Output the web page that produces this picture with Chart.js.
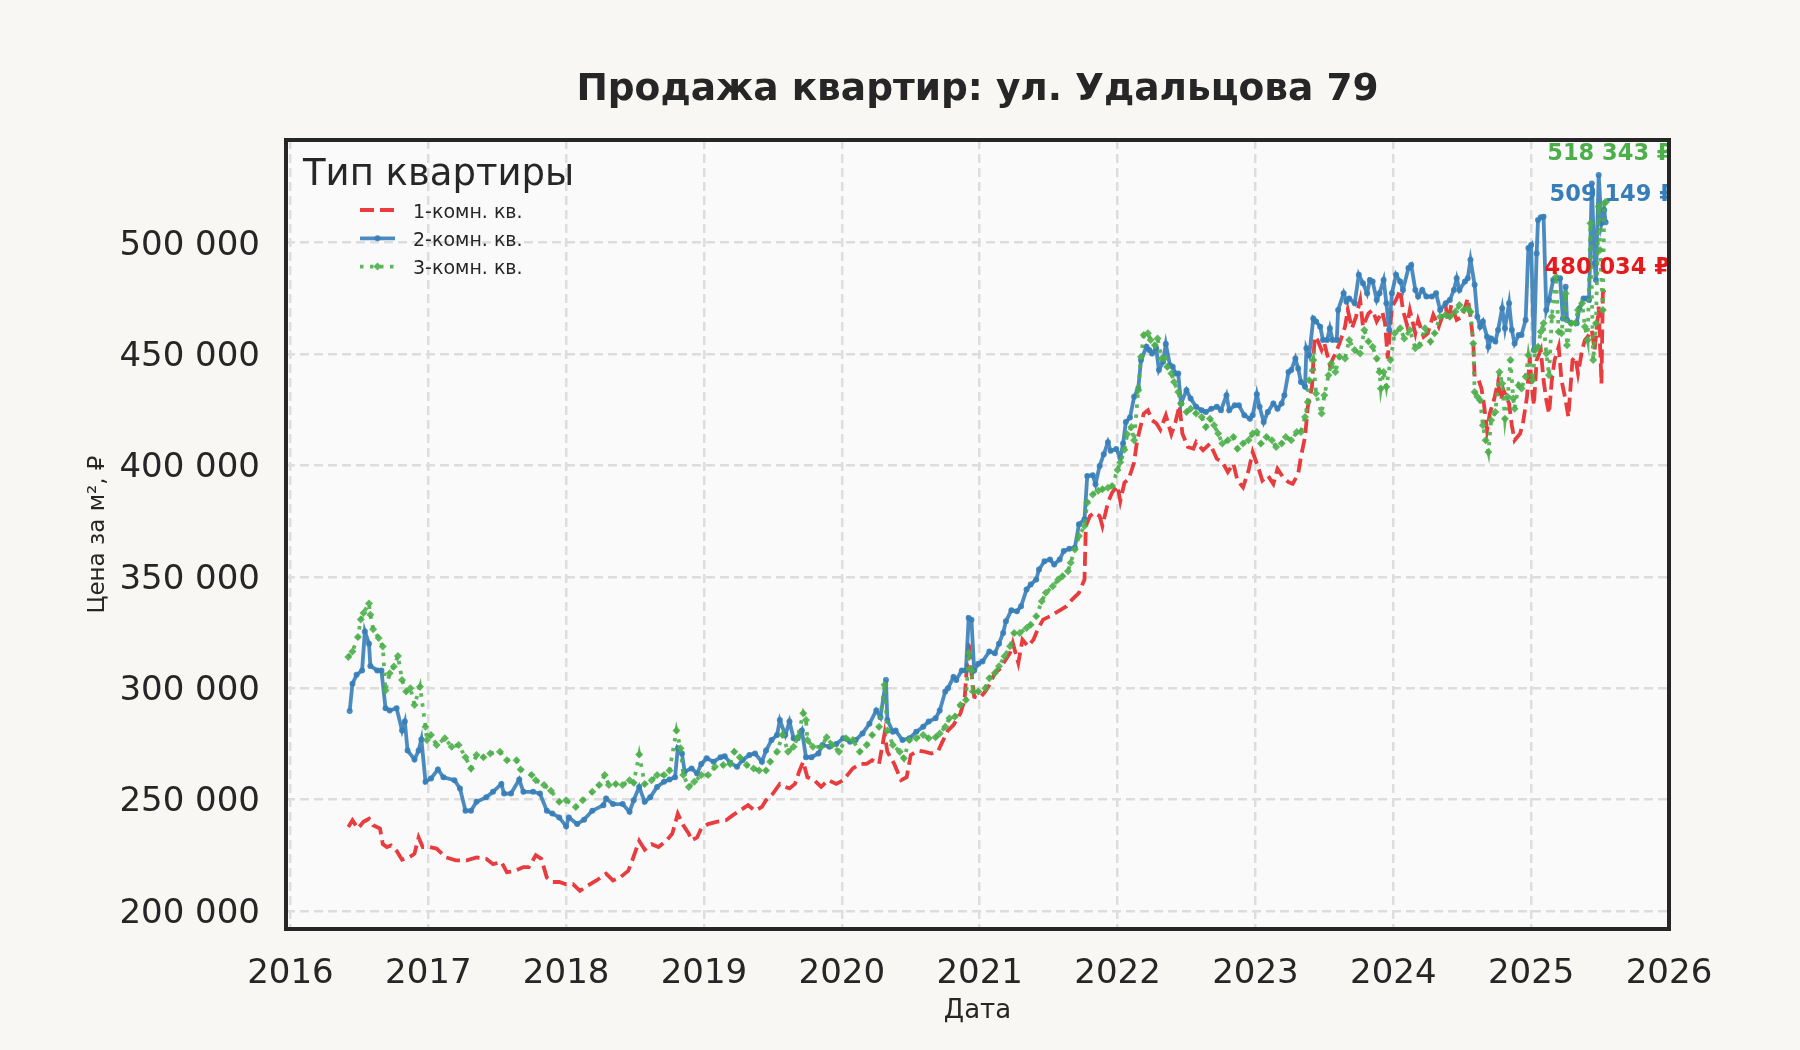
<!DOCTYPE html>
<html lang="ru">
<head>
<meta charset="utf-8">
<title>Продажа квартир: ул. Удальцова 79</title>
<script src="https://cdn.jsdelivr.net/npm/chart.js@4.4.1/dist/chart.umd.min.js"></script>
<style>
    html, body { margin: 0; padding: 0; background: #f8f7f3; overflow: hidden; }
    #wrap { width: 1800px; height: 1050px; }
</style>
</head>
<body>
<div id="wrap"><canvas id="priceChart" width="1800" height="1050"></canvas></div>
<script>
// ---- data ----
const seriesNames = ['1-комн. кв.', '2-комн. кв.', '3-комн. кв.'];
const xTicks = [2016, 2017, 2018, 2019, 2020, 2021, 2022, 2023, 2024, 2025, 2026];
const yTicks = [200000, 250000, 300000, 350000, 400000, 450000, 500000];

// [year, price per m²]
const oneRoom = [
    [2016.42,237700],[2016.45,240700],[2016.49,237000],[2016.53,240000],[2016.57,241400],[2016.60,238500],
    [2016.65,237000],[2016.67,230000],[2016.70,228700],[2016.73,229400],[2016.77,227000],[2016.81,223000],
    [2016.86,224000],[2016.90,225700],[2016.93,233000],[2016.96,228700],[2017.01,228700],[2017.06,228000],
    [2017.13,224000],[2017.20,222700],[2017.28,222700],[2017.35,224000],[2017.42,223400],[2017.47,221000],
    [2017.53,222000],[2017.57,217400],[2017.63,218000],[2017.69,219700],[2017.73,219700],[2017.78,225000],
    [2017.82,223400],[2017.86,215000],[2017.90,213000],[2017.95,213000],[2018.00,212000],[2018.05,212000],
    [2018.10,209000],[2018.14,210700],[2018.22,213700],[2018.29,216700],[2018.34,213700],[2018.39,215000],
    [2018.45,218000],[2018.47,221000],[2018.51,228000],[2018.53,231500],[2018.57,227500],[2018.62,230000],
    [2018.67,228700],[2018.73,231700],[2018.77,234700],[2018.81,243700],[2018.85,238500],[2018.89,234700],
    [2018.91,231700],[2018.95,233000],[2018.98,237000],[2019.03,239000],[2019.09,240000],[2019.16,240700],
    [2019.21,243000],[2019.26,245000],[2019.32,247500],[2019.37,245000],[2019.42,246700],[2019.45,249700],
    [2019.50,252700],[2019.55,257000],[2019.59,255700],[2019.62,255000],[2019.66,257000],[2019.69,262500],
    [2019.72,267000],[2019.75,260000],[2019.80,258700],[2019.85,255700],[2019.90,258700],[2019.96,257000],
    [2020.01,258700],[2020.04,261000],[2020.08,264000],[2020.13,266000],[2020.18,266000],[2020.22,267700],
    [2020.27,266000],[2020.31,279700],[2020.33,271500],[2020.38,266000],[2020.43,258700],[2020.47,260000],
    [2020.50,270000],[2020.55,272000],[2020.60,271500],[2020.65,270700],[2020.70,272000],[2020.73,276000],
    [2020.77,281000],[2020.81,283500],[2020.86,288700],[2020.89,294700],[2020.92,321000],[2020.94,306800],
    [2020.96,296200],[2021.00,295500],[2021.04,298500],[2021.07,301500],[2021.11,306800],[2021.14,308300],
    [2021.18,312000],[2021.22,315800],[2021.24,320300],[2021.28,311300],[2021.31,321800],[2021.35,318800],
    [2021.39,321800],[2021.42,326300],[2021.46,330800],[2021.51,332300],[2021.55,333800],[2021.59,335300],
    [2021.63,336800],[2021.67,339800],[2021.72,342800],[2021.76,348800],[2021.77,372800],[2021.80,377300],
    [2021.83,378800],[2021.87,377300],[2021.89,372800],[2021.93,383300],[2021.96,387800],[2022.00,390800],
    [2022.02,384000],[2022.05,392300],[2022.08,393800],[2022.12,401300],[2022.14,410400],[2022.16,415800],
    [2022.19,423300],[2022.22,424800],[2022.25,420300],[2022.28,419000],[2022.31,416000],[2022.35,422500],
    [2022.39,414000],[2022.42,419500],[2022.45,427000],[2022.47,414300],[2022.51,408300],[2022.55,407500],
    [2022.57,410500],[2022.62,406800],[2022.67,409800],[2022.72,403000],[2022.76,401500],[2022.80,397000],
    [2022.84,400800],[2022.87,393200],[2022.91,390200],[2022.95,397700],[2022.98,406000],[2023.02,399200],
    [2023.05,393200],[2023.09,395500],[2023.13,391700],[2023.16,398500],[2023.20,394700],[2023.24,392500],
    [2023.27,391700],[2023.31,396200],[2023.33,403800],[2023.36,412800],[2023.38,426300],[2023.41,435300],
    [2023.43,457800],[2023.45,456300],[2023.48,451800],[2023.50,454800],[2023.54,445000],[2023.58,450300],
    [2023.61,454800],[2023.65,462300],[2023.67,469800],[2023.70,461600],[2023.73,466800],[2023.76,474300],
    [2023.78,462300],[2023.82,468300],[2023.85,469800],[2023.88,464600],[2023.92,469000],[2023.94,463800],
    [2023.96,448000],[2023.99,471300],[2024.02,474300],[2024.05,478800],[2024.07,469800],[2024.10,463000],
    [2024.12,469800],[2024.16,459300],[2024.18,465300],[2024.22,457800],[2024.25,459300],[2024.29,467600],
    [2024.33,462300],[2024.38,471300],[2024.40,464600],[2024.42,472000],[2024.46,465300],[2024.50,466800],
    [2024.54,475000],[2024.56,466800],[2024.58,455600],[2024.59,439800],[2024.62,438300],[2024.64,434500],
    [2024.66,426300],[2024.68,415800],[2024.70,423300],[2024.73,429300],[2024.76,437500],[2024.78,429300],
    [2024.80,433800],[2024.84,427800],[2024.86,418000],[2024.88,411300],[2024.92,414300],[2024.94,418800],
    [2024.97,430800],[2024.99,448800],[2025.00,438300],[2025.02,427000],[2025.04,447300],[2025.07,451800],
    [2025.09,438300],[2025.11,429300],[2025.13,423300],[2025.15,438300],[2025.17,447300],[2025.20,453300],
    [2025.22,438300],[2025.25,429300],[2025.27,421800],[2025.30,447300],[2025.32,448800],[2025.34,441300],
    [2025.37,451800],[2025.39,456300],[2025.41,457800],[2025.44,460800],[2025.46,451800],[2025.48,463800],
    [2025.49,471300],[2025.51,436800],[2025.52,477300],[2025.54,480034]
];

const twoRoom = [
    [2016.43,289800],[2016.45,302000],[2016.48,306000],[2016.52,308000],[2016.54,325500],[2016.57,320000],
    [2016.58,310000],[2016.63,308000],[2016.66,308000],[2016.69,291000],[2016.72,290000],[2016.77,291000],
    [2016.81,281000],[2016.83,285000],[2016.85,272000],[2016.90,268000],[2016.93,272000],[2016.95,277000],
    [2016.98,258000],[2017.02,259500],[2017.07,263500],[2017.11,260000],[2017.19,258700],[2017.23,255000],
    [2017.27,245000],[2017.31,245000],[2017.35,249000],[2017.42,251000],[2017.47,253500],[2017.53,257000],
    [2017.55,252700],[2017.60,252700],[2017.66,259000],[2017.69,253500],[2017.76,253500],[2017.81,252700],
    [2017.86,245000],[2017.90,243700],[2017.95,242000],[2018.00,238000],[2018.02,242000],[2018.08,239000],
    [2018.13,241000],[2018.19,245000],[2018.27,247500],[2018.29,250500],[2018.34,248000],[2018.41,248000],
    [2018.46,244500],[2018.49,249700],[2018.53,255700],[2018.57,249000],[2018.61,251000],[2018.66,255700],
    [2018.71,258000],[2018.75,259000],[2018.79,260000],[2018.81,273000],[2018.84,270700],[2018.86,262500],
    [2018.91,264000],[2018.95,261700],[2018.98,266000],[2019.02,268500],[2019.07,267000],[2019.12,269000],
    [2019.15,269500],[2019.19,266500],[2019.24,264700],[2019.28,267700],[2019.33,270000],[2019.37,270700],
    [2019.42,267000],[2019.45,272000],[2019.49,276700],[2019.53,279000],[2019.55,285700],[2019.59,279000],
    [2019.62,285000],[2019.65,277500],[2019.68,277500],[2019.71,281000],[2019.74,269000],[2019.78,269000],
    [2019.83,270700],[2019.86,274500],[2019.91,273700],[2019.96,275000],[2020.01,277500],[2020.06,276000],
    [2020.10,276700],[2020.15,279700],[2020.20,284000],[2020.25,290000],[2020.28,287000],[2020.32,303700],
    [2020.33,285700],[2020.37,280500],[2020.39,281000],[2020.44,276700],[2020.49,277500],[2020.54,280500],
    [2020.59,282700],[2020.63,285000],[2020.68,286500],[2020.71,290000],[2020.75,298500],[2020.77,300000],
    [2020.81,305000],[2020.83,303700],[2020.87,308000],[2020.90,308000],[2020.92,331500],[2020.94,330700],
    [2020.96,308000],[2020.99,311000],[2021.02,312000],[2021.07,316500],[2021.11,315700],[2021.14,320000],
    [2021.17,324800],[2021.19,330000],[2021.23,335000],[2021.27,334500],[2021.30,336800],[2021.34,344300],
    [2021.37,346500],[2021.41,348800],[2021.43,353300],[2021.47,357000],[2021.51,357800],[2021.54,355500],
    [2021.58,357800],[2021.61,361600],[2021.65,362600],[2021.69,363000],[2021.72,373600],[2021.76,375800],
    [2021.78,395300],[2021.82,395600],[2021.84,391600],[2021.87,399800],[2021.90,405000],[2021.93,410400],
    [2021.95,406600],[2021.99,407400],[2022.02,403600],[2022.04,409800],[2022.06,419500],[2022.09,421500],
    [2022.12,430800],[2022.15,434500],[2022.17,447300],[2022.21,453300],[2022.23,451800],[2022.25,450300],
    [2022.28,452600],[2022.30,442800],[2022.33,446500],[2022.35,454500],[2022.38,445000],[2022.40,444300],
    [2022.42,441300],[2022.44,441300],[2022.46,427800],[2022.50,433800],[2022.53,430000],[2022.57,426300],
    [2022.61,424800],[2022.64,424000],[2022.68,425500],[2022.72,426300],[2022.75,424800],[2022.79,431500],
    [2022.81,424800],[2022.85,427000],[2022.88,427000],[2022.92,422500],[2022.96,421000],[2022.98,422500],
    [2023.01,432000],[2023.03,426300],[2023.06,419500],[2023.09,424000],[2023.13,427800],[2023.16,425500],
    [2023.19,427800],[2023.21,431500],[2023.24,442000],[2023.26,442800],[2023.29,448000],[2023.31,443500],
    [2023.33,437500],[2023.36,435300],[2023.37,452600],[2023.39,449500],[2023.42,466000],[2023.44,464600],
    [2023.47,462300],[2023.49,456300],[2023.52,456300],[2023.54,461600],[2023.56,456300],[2023.59,456300],
    [2023.60,469800],[2023.64,477300],[2023.66,473600],[2023.68,475000],[2023.72,472800],[2023.75,485600],
    [2023.78,481800],[2023.81,477300],[2023.83,483300],[2023.85,482600],[2023.88,474300],[2023.90,477300],
    [2023.93,483300],[2023.95,472800],[2023.97,460800],[2023.99,477300],[2024.02,485600],[2024.05,482600],
    [2024.07,478800],[2024.11,488600],[2024.13,490000],[2024.16,478800],[2024.18,475800],[2024.21,478800],
    [2024.24,475800],[2024.28,475800],[2024.31,477300],[2024.34,469800],[2024.38,472800],[2024.41,474300],
    [2024.44,478800],[2024.46,484000],[2024.48,478800],[2024.52,482600],[2024.54,484000],[2024.56,492300],
    [2024.59,481100],[2024.61,466800],[2024.63,462300],[2024.65,464600],[2024.68,457800],[2024.69,453300],
    [2024.71,457000],[2024.74,455600],[2024.76,460800],[2024.79,470600],[2024.81,461600],[2024.84,472800],
    [2024.86,460800],[2024.88,454800],[2024.91,458600],[2024.93,458600],[2024.96,465300],[2024.98,497600],
    [2025.00,499000],[2025.02,451800],[2025.04,495200],[2025.05,510200],[2025.07,511400],[2025.09,511700],
    [2025.11,469800],[2025.13,474300],[2025.16,483200],[2025.19,484000],[2025.21,484000],[2025.23,466000],
    [2025.25,480200],[2025.26,465300],[2025.29,464000],[2025.33,463800],[2025.35,470500],[2025.38,475000],
    [2025.40,475000],[2025.42,474300],[2025.44,526600],[2025.46,490700],[2025.47,483200],[2025.49,530400],
    [2025.51,508700],[2025.53,514700],[2025.54,509149]
];

const threeRoom = [
    [2016.42,314000],[2016.45,316500],[2016.49,323000],[2016.51,330800],[2016.53,333800],[2016.57,338000],
    [2016.58,333000],[2016.60,326500],[2016.64,322500],[2016.67,318700],[2016.69,299000],[2016.72,306700],
    [2016.75,309700],[2016.78,314500],[2016.81,303700],[2016.84,298500],[2016.87,300000],[2016.90,292500],
    [2016.94,300700],[2016.98,282700],[2016.99,276700],[2017.02,279000],[2017.06,274500],[2017.12,277500],
    [2017.17,273700],[2017.22,274500],[2017.27,269000],[2017.31,264000],[2017.35,270000],[2017.40,269000],
    [2017.45,270700],[2017.52,271500],[2017.57,267700],[2017.64,267700],[2017.67,263500],[2017.75,261000],
    [2017.78,258700],[2017.84,256500],[2017.89,254000],[2017.95,249000],[2018.00,249700],[2018.07,246700],
    [2018.12,249700],[2018.19,253500],[2018.24,256500],[2018.28,261000],[2018.31,256500],[2018.36,257000],
    [2018.41,256500],[2018.46,258700],[2018.49,257500],[2018.53,270200],[2018.57,257000],[2018.62,258700],
    [2018.66,261000],[2018.71,261000],[2018.75,263000],[2018.80,281000],[2018.83,273000],[2018.85,261000],
    [2018.89,255700],[2018.93,258000],[2018.98,261000],[2019.03,261000],[2019.08,264700],[2019.14,265500],
    [2019.19,266000],[2019.22,271500],[2019.26,269000],[2019.31,265500],[2019.36,264000],[2019.40,263000],
    [2019.45,263000],[2019.48,267000],[2019.53,271500],[2019.57,279000],[2019.61,271500],[2019.65,273700],
    [2019.68,278000],[2019.72,288700],[2019.74,285700],[2019.75,276700],[2019.79,273700],[2019.85,273700],
    [2019.89,278000],[2019.93,274500],[2019.98,271500],[2020.03,277500],[2020.08,276700],[2020.13,271500],
    [2020.18,274500],[2020.22,279000],[2020.27,282700],[2020.31,301500],[2020.33,281000],[2020.37,274500],
    [2020.42,271500],[2020.45,268500],[2020.49,276700],[2020.54,277500],[2020.59,279000],[2020.63,277500],
    [2020.68,278000],[2020.71,279700],[2020.75,282700],[2020.78,286500],[2020.82,287200],[2020.86,292500],
    [2020.90,294700],[2020.92,315800],[2020.94,308000],[2020.95,298500],[2020.99,298500],[2021.04,300000],
    [2021.07,304500],[2021.11,306800],[2021.14,309800],[2021.18,314300],[2021.22,318800],[2021.25,324800],
    [2021.29,324800],[2021.34,327000],[2021.37,328500],[2021.41,332300],[2021.45,339000],[2021.48,342800],
    [2021.53,345800],[2021.57,348800],[2021.60,350300],[2021.64,352500],[2021.66,356300],[2021.69,362300],
    [2021.72,368300],[2021.76,372800],[2021.78,383300],[2021.82,387000],[2021.86,388600],[2021.89,389300],
    [2021.93,390000],[2021.96,390800],[2022.00,398000],[2022.02,401400],[2022.05,407000],[2022.07,414000],
    [2022.10,417300],[2022.12,411300],[2022.15,433800],[2022.17,448800],[2022.19,458600],[2022.22,459300],
    [2022.24,456300],[2022.27,454000],[2022.29,457000],[2022.32,448000],[2022.34,448000],[2022.36,444300],
    [2022.39,441300],[2022.41,437500],[2022.44,433000],[2022.46,427800],[2022.50,424000],[2022.53,425500],
    [2022.57,423300],[2022.61,421800],[2022.64,417300],[2022.67,421000],[2022.70,418000],[2022.73,414300],
    [2022.76,409800],[2022.80,411300],[2022.84,412800],[2022.87,407500],[2022.91,409800],[2022.95,411300],
    [2022.98,414300],[2023.01,415000],[2023.04,409800],[2023.08,412800],[2023.12,411300],[2023.15,408300],
    [2023.19,409800],[2023.22,412800],[2023.26,411300],[2023.30,415000],[2023.33,415000],[2023.36,421800],
    [2023.38,428500],[2023.39,438300],[2023.42,447300],[2023.44,432300],[2023.48,423300],[2023.50,431500],
    [2023.53,440500],[2023.55,445800],[2023.58,442000],[2023.61,448800],[2023.65,448000],[2023.68,456300],
    [2023.72,451800],[2023.76,450300],[2023.79,460800],[2023.82,455600],[2023.85,453300],[2023.88,448000],
    [2023.90,442000],[2023.91,434500],[2023.93,442000],[2023.95,435300],[2023.98,447300],[2024.01,459300],
    [2024.05,461600],[2024.08,457000],[2024.12,460800],[2024.16,452600],[2024.19,454000],[2024.23,461600],
    [2024.27,455600],[2024.30,459300],[2024.34,466800],[2024.38,467600],[2024.41,466800],[2024.45,469000],
    [2024.48,472000],[2024.51,469800],[2024.54,470600],[2024.56,469000],[2024.58,454800],[2024.59,433000],
    [2024.61,430800],[2024.63,429300],[2024.65,418000],[2024.67,411300],[2024.69,406000],[2024.71,420300],
    [2024.74,424000],[2024.77,442000],[2024.79,436800],[2024.81,421000],[2024.83,430800],[2024.85,447300],
    [2024.87,430000],[2024.88,425500],[2024.91,436000],[2024.93,434500],[2024.96,439800],[2024.98,449500],
    [2025.01,438300],[2025.03,451800],[2025.05,453300],[2025.07,460000],[2025.09,463800],[2025.11,450300],
    [2025.13,440500],[2025.15,466800],[2025.18,484700],[2025.20,460000],[2025.22,459300],[2025.25,477200],
    [2025.26,454000],[2025.29,463800],[2025.32,464000],[2025.34,469800],[2025.37,472800],[2025.39,462300],
    [2025.41,456300],[2025.43,508700],[2025.45,447300],[2025.47,463800],[2025.49,516200],[2025.50,496700],
    [2025.52,469800],[2025.53,517700],[2025.545,518343]
];

// ---- look ----
const FONT = 'DejaVu Sans';
const TEXT_COLOR = '#262626';
const lineColors = ['rgba(228, 26, 28, 0.85)', 'rgba(55, 126, 184, 0.9)', 'rgba(77, 175, 74, 0.9)'];
const labelColors = ['#e41a1c', '#377eb8', '#4daf4a'];
const labelOffsets = [{ dx: -61, dy: -19 }, { dx: -56, dy: -27 }, { dx: -59, dy: -48 }];

function formatThousands(v) {
    return String(Math.round(v)).replace(/\B(?=(\d{3})+(?!\d))/g, ' ');
}

function toPoints(rows) {
    return rows.map(r => ({ x: r[0], y: r[1] }));
}

// background of the figure and of the plotting area
const backgroundPlugin = {
    id: 'backgroundPlugin',
    beforeDraw(chart) {
        const { ctx, chartArea: a } = chart;
        ctx.save();
        ctx.fillStyle = '#f8f7f3';
        ctx.fillRect(0, 0, chart.width, chart.height);
        ctx.fillStyle = '#fafafb';
        ctx.fillRect(a.left, a.top, a.right - a.left, a.bottom - a.top);
        ctx.restore();
    }
};

// value labels for the last point of each series
const lastValuePlugin = {
    id: 'lastValuePlugin',
    afterDatasetsDraw(chart) {
        const { ctx, chartArea: a } = chart;
        ctx.save();
        ctx.beginPath();
        ctx.rect(a.left, a.top, a.right - a.left, a.bottom - a.top);
        ctx.clip();
        ctx.font = 'bold 22.5px "' + FONT + '"';
        ctx.textAlign = 'left';
        ctx.textBaseline = 'middle';
        chart.data.datasets.forEach((ds, i) => {
            const meta = chart.getDatasetMeta(i);
            const el = meta.data[meta.data.length - 1];
            const value = ds.data[ds.data.length - 1].y;
            ctx.fillStyle = labelColors[i];
            ctx.fillText(formatThousands(value) + ' ₽', el.x + labelOffsets[i].dx, el.y + labelOffsets[i].dy);
        });
        ctx.restore();
    }
};

// frame round the axes and the matplotlib-like legend
const frameLegendPlugin = {
    id: 'frameLegendPlugin',
    afterDraw(chart) {
        const { ctx, chartArea: a } = chart;
        ctx.save();
        ctx.strokeStyle = '#262626';
        ctx.lineWidth = 4;
        ctx.strokeRect(a.left, a.top, a.right - a.left, a.bottom - a.top);

        ctx.fillStyle = TEXT_COLOR;
        ctx.font = '37px "' + FONT + '"';
        ctx.textAlign = 'left';
        ctx.textBaseline = 'alphabetic';
        ctx.fillText('Тип квартиры', a.left + 17, a.top + 45);

        ctx.font = '19px "' + FONT + '"';
        chart.data.datasets.forEach((ds, i) => {
            const y = a.top + 70 + i * 28.3;
            const x0 = a.left + 74, x1 = a.left + 109;
            ctx.strokeStyle = ds.borderColor;
            ctx.lineWidth = ds.borderWidth;
            ctx.setLineDash(ds.borderDash || []);
            ctx.beginPath();
            ctx.moveTo(x0, y);
            ctx.lineTo(x1, y);
            ctx.stroke();
            ctx.setLineDash([]);
            if (ds.pointRadius > 0) {
                const cx = (x0 + x1) / 2, r = ds.pointRadius;
                ctx.fillStyle = ds.pointBackgroundColor;
                ctx.beginPath();
                if (ds.pointStyle === 'rectRot') {
                    ctx.moveTo(cx, y - r);
                    ctx.lineTo(cx + r, y);
                    ctx.lineTo(cx, y + r);
                    ctx.lineTo(cx - r, y);
                    ctx.closePath();
                } else {
                    ctx.arc(cx, y, r, 0, Math.PI * 2);
                }
                ctx.fill();
            }
            ctx.fillStyle = TEXT_COLOR;
            ctx.fillText(ds.label, a.left + 127, a.top + 77.5 + i * 28.3);
        });
        ctx.restore();
    }
};

const gridOpts = { color: '#dddddd', lineWidth: 2.5, drawTicks: false };
const borderOpts = { display: false, dash: [9, 5] };

new Chart(document.getElementById('priceChart'), {
    type: 'line',
    data: {
        datasets: [{
            label: seriesNames[0],
            data: toPoints(oneRoom),
            borderColor: lineColors[0],
            borderWidth: 3.8,
            borderDash: [14, 6],
            pointRadius: 0,
            tension: 0,
            order: 2
        }, {
            label: seriesNames[1],
            data: toPoints(twoRoom),
            borderColor: lineColors[1],
            borderWidth: 3.8,
            pointRadius: 3,
            pointStyle: 'circle',
            pointBackgroundColor: lineColors[1],
            pointBorderWidth: 0,
            tension: 0,
            order: 1
        }, {
            label: seriesNames[2],
            data: toPoints(threeRoom),
            borderColor: lineColors[2],
            borderWidth: 3.8,
            borderDash: [3.5, 6.5],
            pointRadius: 4,
            pointStyle: 'rectRot',
            pointBackgroundColor: lineColors[2],
            pointBorderWidth: 0,
            tension: 0,
            order: 0
        }]
    },
    options: {
        responsive: false,
        devicePixelRatio: 1,
        animation: false,
        events: [],
        layout: { padding: { left: 0, right: 131, top: 0, bottom: 0 } },
        plugins: {
            legend: { display: false },
            tooltip: { enabled: false },
            title: {
                display: true,
                fullSize: false,
                text: 'Продажа квартир: ул. Удальцова 79',
                color: TEXT_COLOR,
                font: { family: FONT, size: 37.5, weight: 'bold' },
                padding: { top: 67.5, bottom: 27.5 }
            }
        },
        scales: {
            x: {
                type: 'linear',
                min: 2015.968,
                max: 2026.0,
                afterBuildTicks: s => { s.ticks = xTicks.map(v => ({ value: v })); },
                afterFit: s => { s.height = 121; },
                grid: gridOpts,
                border: borderOpts,
                ticks: {
                    color: TEXT_COLOR,
                    font: { family: FONT, size: 34 },
                    padding: 25,
                    maxRotation: 0,
                    autoSkip: false,
                    callback: v => String(v)
                },
                title: {
                    display: true,
                    text: 'Дата',
                    color: TEXT_COLOR,
                    font: { family: FONT, size: 26 },
                    padding: { top: 0, bottom: 23 }
                }
            },
            y: {
                type: 'linear',
                min: 191900,
                max: 546100,
                afterBuildTicks: s => { s.ticks = yTicks.map(v => ({ value: v })); },
                afterFit: s => { s.width = 286; },
                grid: gridOpts,
                border: borderOpts,
                ticks: {
                    color: TEXT_COLOR,
                    font: { family: FONT, size: 34 },
                    padding: 26,
                    labelOffset: 3,
                    callback: v => formatThousands(v)
                },
                title: {
                    display: true,
                    text: 'Цена за м², ₽',
                    color: TEXT_COLOR,
                    font: { family: FONT, size: 23 },
                    padding: { top: 84.7, bottom: 0 }
                }
            }
        }
    },
    plugins: [backgroundPlugin, lastValuePlugin, frameLegendPlugin]
});
</script>
</body>
</html>
